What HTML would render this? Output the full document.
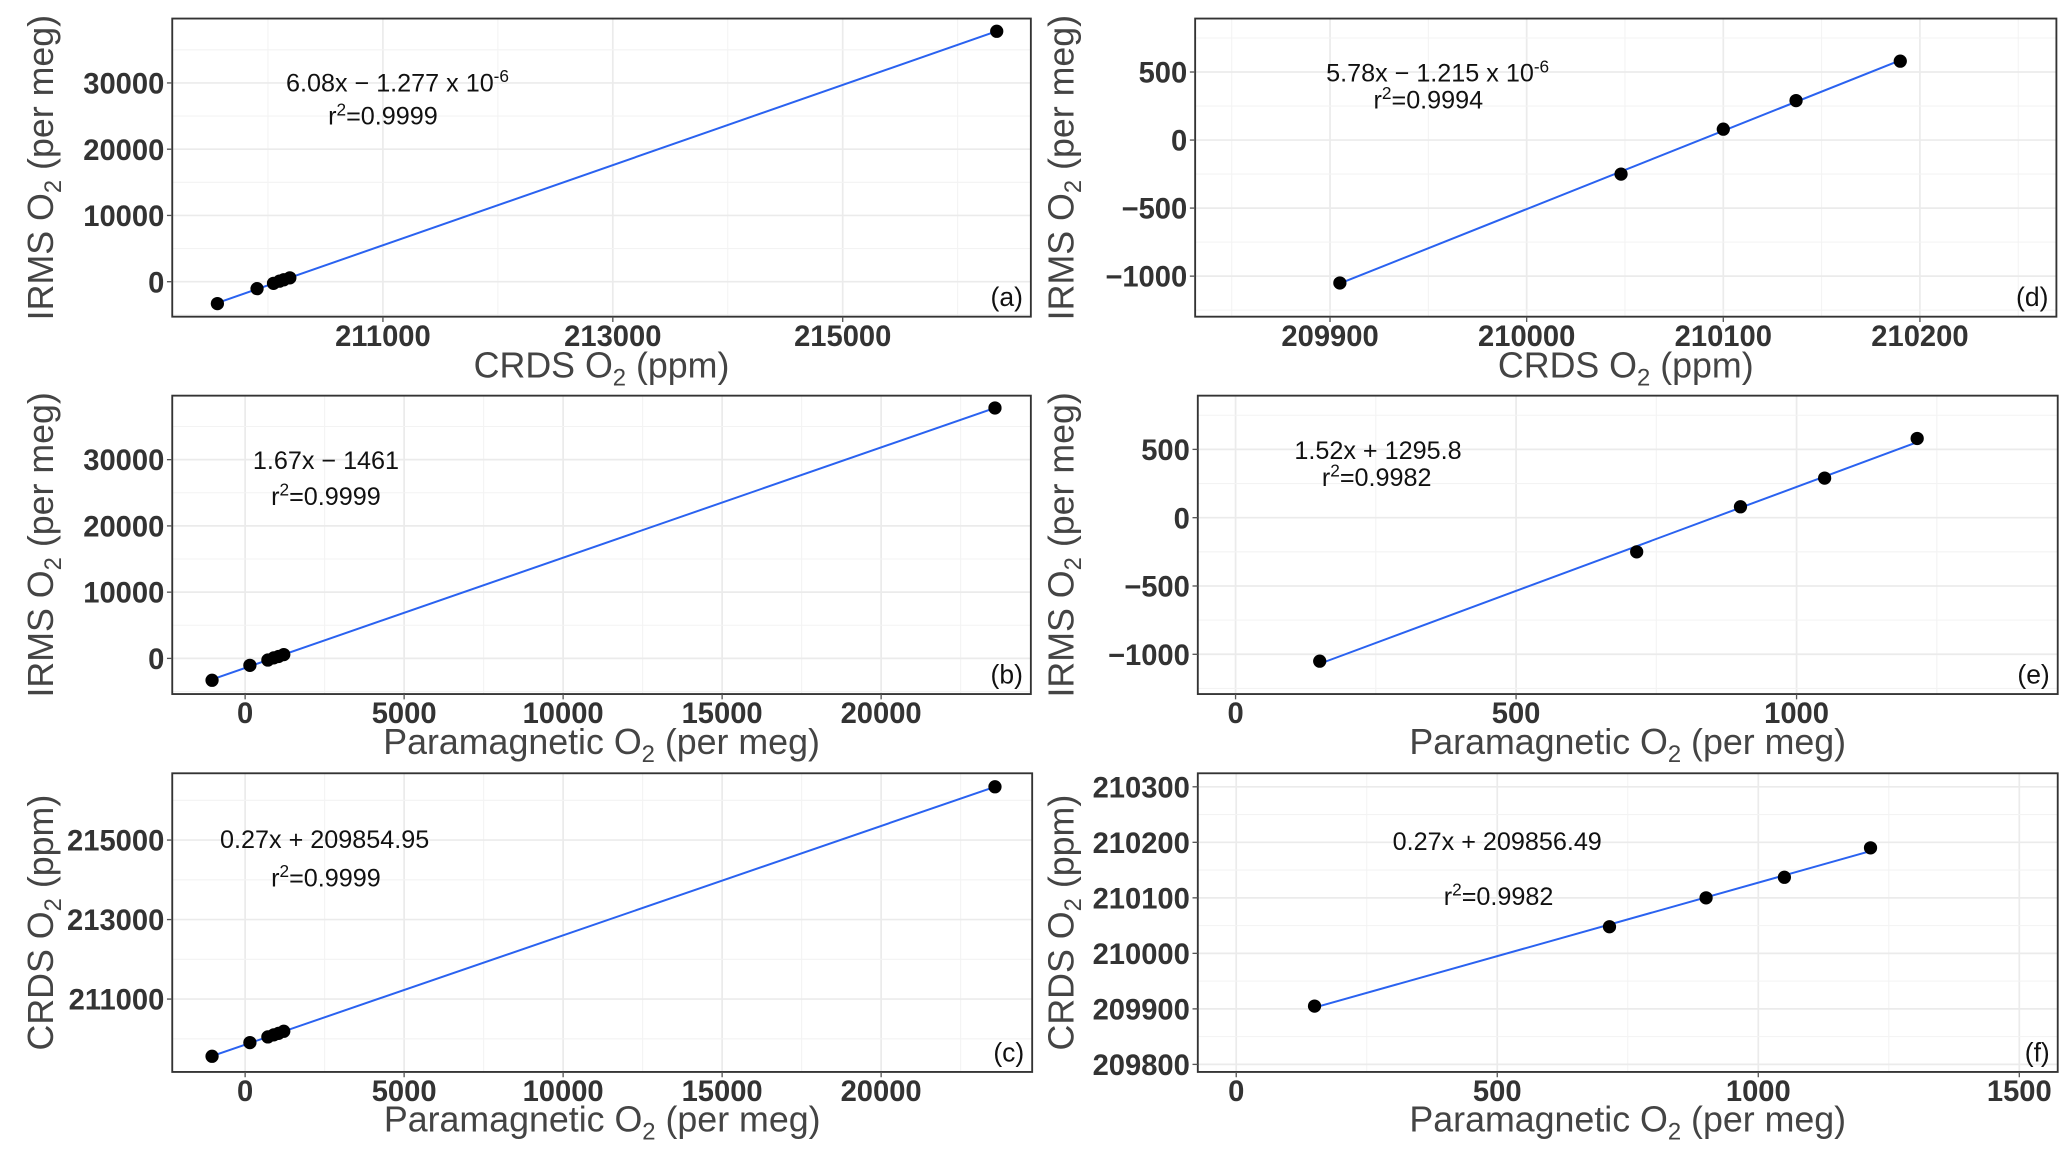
<!DOCTYPE html>
<html><head><meta charset="utf-8"><style>
html,body{margin:0;padding:0;background:#fff;}
svg{display:block;}
text{font-family:"Liberation Sans",Arial,sans-serif;}
</style></head><body>
<svg id="fig" width="2067" height="1159" viewBox="0 0 1560 874.7" preserveAspectRatio="none" xmlns="http://www.w3.org/2000/svg"></svg>
<script>
// Data (shared samples)
const crdsVals = [209560, 209905, 210048, 210100, 210137, 210190, 216340];
const paraVals = [-1040, 150, 715, 900, 1050, 1215, 23580];
const irmsVals = [-3300, -1050, -250, 80, 290, 580, 37800];
const crdsSub = [209905, 210048, 210100, 210137, 210190];
const paraSub = [150, 715, 900, 1050, 1215];
const irmsSub = [-1050, -250, 80, 290, 580];
const ticksA_x = [211000, 213000, 215000];
const ticksA_y = [0, 10000, 20000, 30000];
const ticksB_x = [0, 5000, 10000, 15000, 20000];
const ticksB_y = [0, 10000, 20000, 30000];
const ticksC_y = [211000, 213000, 215000];
const ticksD_x = [209900, 210000, 210100, 210200];
const ticksD_y = [-1000, -500, 0, 500];
const ticksE_x = [0, 500, 1000];
const ticksE_y = [-1000, -500, 0, 500];
const ticksF_x = [0, 500, 1000, 1500];
const ticksF_y = [209800, 209900, 210000, 210100, 210200, 210300];

const NS = "http://www.w3.org/2000/svg";
const svg = document.getElementById('fig');
function mk(tag, attrs, parent){const e=document.createElementNS(NS,tag);for(const k in attrs)e.setAttribute(k,attrs[k]);(parent||svg).appendChild(e);return e;}

const panels = [
 {id:'a',x0:130,x1:778,y0:14,y1:239,xr:[211000,289,0.08675],yr:[0,212.6,0.005],xs:crdsVals,ys:irmsVals,xt:ticksA_x,yt:ticksA_y,xstep:1000,ystep:5000,
  xt1:'CRDS O',xt2:' (ppm)',yt1:'IRMS O',yt2:' (per meg)',ann1:['6.08x \u2212 1.277 x 10','-6'],a1:[300,69],ann2:'=0.9999',a2:[289,94],titleY:285},
 {id:'b',x0:130,x1:778,y0:298.6,y1:523.8,xr:[0,185,0.024],yr:[0,496.9,0.005],xs:paraVals,ys:irmsVals,xt:ticksB_x,yt:ticksB_y,xstep:2500,ystep:5000,
  xt1:'Paramagnetic O',xt2:' (per meg)',yt1:'IRMS O',yt2:' (per meg)',ann1:['1.67x \u2212 1461',''],a1:[246,354],ann2:'=0.9999',a2:[246,381],titleY:569},
 {id:'c',x0:130,x1:779,y0:583.6,y1:809,xr:[0,185,0.024],yr:[211000,754,0.03],xs:paraVals,ys:crdsVals,xt:ticksB_x,yt:ticksC_y,xstep:2500,ystep:1000,
  xt1:'Paramagnetic O',xt2:' (per meg)',yt1:'CRDS O',yt2:' (ppm)',ann1:['0.27x + 209854.95',''],a1:[245,640],ann2:'=0.9999',a2:[246,669],titleY:854},
 {id:'d',x0:902,x1:1552,y0:14,y1:239,xr:[209900,1003.8,1.484],yr:[0,105.7,0.1027],xs:crdsSub,ys:irmsSub,xt:ticksD_x,yt:ticksD_y,xstep:50,ystep:250,
  xt1:'CRDS O',xt2:' (ppm)',yt1:'IRMS O',yt2:' (per meg)',ann1:['5.78x \u2212 1.215 x 10','-6'],a1:[1085,61.6],ann2:'=0.9994',a2:[1078,81.8],titleY:285},
 {id:'e',x0:904,x1:1553,y0:298.6,y1:523.8,xr:[0,932.5,0.4234],yr:[0,390.7,0.1031],xs:paraSub,ys:irmsSub,xt:ticksE_x,yt:ticksE_y,xstep:250,ystep:250,
  xt1:'Paramagnetic O',xt2:' (per meg)',yt1:'IRMS O',yt2:' (per meg)',ann1:['1.52x + 1295.8',''],a1:[1040,346.4],ann2:'=0.9982',a2:[1039,366.8],titleY:569},
 {id:'f',x0:904,x1:1553,y0:583.6,y1:809,xr:[0,933,0.394],yr:[210000,719.5,0.419],xs:paraSub,ys:crdsSub,xt:ticksF_x,yt:ticksF_y,xstep:250,ystep:50,
  xt1:'Paramagnetic O',xt2:' (per meg)',yt1:'CRDS O',yt2:' (ppm)',ann1:['0.27x + 209856.49',''],a1:[1130,641.5],ann2:'=0.9982',a2:[1131,683],titleY:854}
];

panels.forEach(p=>{
  const X=v=>p.xr[1]+(v-p.xr[0])*p.xr[2];
  const Y=v=>p.yr[1]-(v-p.yr[0])*p.yr[2];
  const g=mk('g',{});
  
  
  const vx0=p.xr[0]+(p.x0-p.xr[1])/p.xr[2], vx1=p.xr[0]+(p.x1-p.xr[1])/p.xr[2];
  let s=Math.ceil(vx0/p.xstep)*p.xstep;
  for(let v=s;v<=vx1;v+=p.xstep){const major=p.xt.includes(v);
    const l=mk('line',{x1:X(v),x2:X(v),y1:p.y0,y2:p.y1,stroke:major?'#ebebeb':'#f3f3f3','stroke-width':major?1.3:0.8},g);
    }
  const vy0=p.yr[0]+(p.yr[1]-p.y1)/p.yr[2], vy1=p.yr[0]+(p.yr[1]-p.y0)/p.yr[2];
  s=Math.ceil(vy0/p.ystep)*p.ystep;
  for(let v=s;v<=vy1;v+=p.ystep){const major=p.yt.includes(v);
    const l=mk('line',{x1:p.x0,x2:p.x1,y1:Y(v),y2:Y(v),stroke:major?'#ebebeb':'#f3f3f3','stroke-width':major?1.3:0.8},g);
    }
  const b=mk('rect',{x:p.x0,y:p.y0,width:p.x1-p.x0,height:p.y1-p.y0,fill:'none',stroke:'#333','stroke-width':1.4},g);
  
  p.xt.forEach(v=>{
    mk('line',{x1:X(v),x2:X(v),y1:p.y1,y2:p.y1+4,stroke:'#555','stroke-width':1},g);
    const t=mk('text',{x:X(v),y:p.y1+22,'text-anchor':'middle','font-size':22,'font-weight':'bold',fill:'#333'},g);
    t.textContent=v;});
  p.yt.forEach(v=>{
    mk('line',{x1:p.x0-4,x2:p.x0,y1:Y(v),y2:Y(v),stroke:'#555','stroke-width':1},g);
    const t=mk('text',{x:p.x0-6,y:Y(v)+8,'text-anchor':'end','font-size':22,'font-weight':'bold',fill:'#333'},g);
    t.textContent=(v<0?'\u2212'+(-v):v);});
  let n=p.xs.length,mx=0,my=0;p.xs.forEach((v,i)=>{mx+=v;my+=p.ys[i];});mx/=n;my/=n;
  let sxy=0,sxx=0;p.xs.forEach((v,i)=>{sxy+=(v-mx)*(p.ys[i]-my);sxx+=(v-mx)*(v-mx);});
  const sl=sxy/sxx,ic=my-sl*mx,xmin=Math.min(...p.xs),xmax=Math.max(...p.xs);
  const rl=mk('line',{x1:X(xmin),y1:Y(ic+sl*xmin),x2:X(xmax),y2:Y(ic+sl*xmax),stroke:'#2a62f0','stroke-width':1.5},g);
  
  p.xs.forEach((v,i)=>{
    const c=mk('circle',{cx:X(v),cy:Y(p.ys[i]),r:5,fill:'#000'},g);
    });
  const a1=mk('text',{x:p.a1[0],y:p.a1[1],'text-anchor':'middle','font-size':19,fill:'#111'},g);
  
  a1.appendChild(document.createTextNode(p.ann1[0]));
  if(p.ann1[1]){const sp=mk('tspan',{dy:-7,'font-size':13},a1);sp.textContent=p.ann1[1];}
  const a2=mk('text',{x:p.a2[0],y:p.a2[1],'text-anchor':'middle','font-size':19,fill:'#111'},g);
  
  a2.appendChild(document.createTextNode('r'));
  const s2=mk('tspan',{dy:-7,'font-size':13},a2);s2.textContent='2';
  const s3=mk('tspan',{dy:7},a2);s3.textContent=p.ann2;
  const pl=mk('text',{x:p.x1-6,y:p.y1-8,'text-anchor':'end','font-size':20,fill:'#111'},g);
  pl.textContent='('+p.id+')';
  const xt=mk('text',{x:(p.x0+p.x1)/2,y:p.titleY,'text-anchor':'middle','font-size':27,fill:'#444'},g);
  
  xt.appendChild(document.createTextNode(p.xt1));
  const xs=mk('tspan',{dy:6,'font-size':18},xt);xs.textContent='2';
  const xr=mk('tspan',{dy:-6},xt);xr.textContent=p.xt2;
  const cy=(p.y0+p.y1)/2, cx=p.x0<500?40:810;
  const yt=mk('text',{x:0,y:0,'text-anchor':'middle','font-size':27,fill:'#444',transform:'translate('+cx+','+cy+') rotate(-90)'},g);
  
  yt.appendChild(document.createTextNode(p.yt1));
  const ys=mk('tspan',{dy:6,'font-size':18},yt);ys.textContent='2';
  const yr=mk('tspan',{dy:-6},yt);yr.textContent=p.yt2;
});
</script>
</body></html>
